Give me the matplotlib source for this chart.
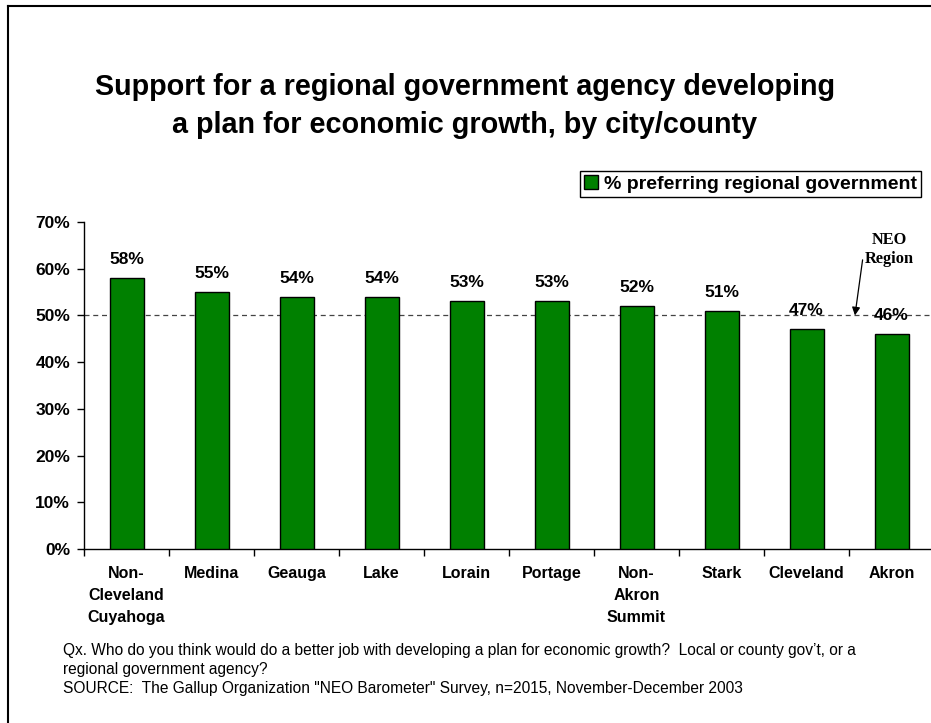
import matplotlib
matplotlib.use('Agg')
import matplotlib.pyplot as plt
from matplotlib.lines import Line2D
from matplotlib.patches import Patch
import numpy as np

# Survey results by city/county
areas = ["Non-\nCleveland\nCuyahoga", "Medina", "Geauga", "Lake", "Lorain",
         "Portage", "Non-\nAkron\nSummit", "Stark", "Cleveland", "Akron"]
pct_regional = [58, 55, 54, 54, 53, 53, 52, 51, 47, 46]
neo_region = 50
y_ticks = [0, 10, 20, 30, 40, 50, 60, 70]

title = ("Support for a regional government agency developing\n"
         "a plan for economic growth, by city/county")
legend_label = "% preferring regional government"
footnote = [
    "Qx. Who do you think would do a better job with developing a plan for economic growth?  "
    "Local or county gov\u2019t, or a",
    "regional government agency?",
    "SOURCE:  The Gallup Organization \"NEO Barometer\" Survey, n=2015, November-December 2003",
]

plt.rcParams['font.family'] = ['Liberation Sans', 'DejaVu Sans']

W, H = 931, 723
fig = plt.figure(figsize=(W / 100, H / 100), dpi=100)
fig.patch.set_facecolor('white')

# outer frame (top and left edges visible)
fig.add_artist(Line2D([8 / W, 8 / W], [0, 1 - 6 / H], color='black', lw=1.5))
fig.add_artist(Line2D([8 / W, 1], [1 - 6 / H, 1 - 6 / H], color='black', lw=1.5))

ax_left, ax_right = 84 / W, 934 / W
ax_bottom, ax_top = 1 - 549 / H, 1 - 222 / H
ax = fig.add_axes([ax_left, ax_bottom, ax_right - ax_left, ax_top - ax_bottom])

x = np.arange(len(areas))
bars = ax.bar(x, pct_regional, width=0.4, color='#008000', edgecolor='black',
              linewidth=1, zorder=3)

for xi, v in zip(x, pct_regional):
    ax.annotate(f"{v}%", (xi, v), xytext=(0, 8), textcoords='offset points',
                ha='center', va='bottom', fontsize=12.5, fontweight='bold', zorder=4)

ax.axhline(neo_region, color='#444444', lw=0.9, ls=(0, (4, 3)), zorder=2)

ax.set_xlim(-0.5, len(areas) - 0.5)
ax.set_ylim(0, 70)
ax.set_yticks(y_ticks)
ax.set_yticklabels([f"{t}%" for t in y_ticks], fontsize=12.5, fontweight='bold')
ax.tick_params(axis='y', direction='out', length=5, width=1, pad=5)

ax.set_xticks(x)
ax.set_xticklabels(areas, fontsize=11.5, fontweight='bold', linespacing=1.58, va='top')
ax.set_xticks(np.arange(len(areas) + 1) - 0.5, minor=True)
ax.tick_params(axis='x', which='major', length=0, pad=12)
ax.tick_params(axis='x', which='minor', direction='out', length=5, width=1)

for side in ('top', 'right'):
    ax.spines[side].set_visible(False)
for side in ('left', 'bottom'):
    ax.spines[side].set_linewidth(1)

# NEO region marker
ax.annotate("", xy=(8.57, neo_region), xytext=(8.66, 61.9),
            arrowprops=dict(arrowstyle='-|>', color='black', lw=0.9,
                            mutation_scale=12, shrinkA=0, shrinkB=0))
ax.text(8.98, 64.2, "NEO\nRegion", ha='center', va='center', fontsize=11.75,
        fontweight='bold', family=['Liberation Serif', 'DejaVu Serif'], linespacing=1.25)

fig.text(465 / W, 1 - 106 / H, title, ha='center', va='center', fontsize=20.7,
         fontweight='bold', linespacing=1.45)

leg = fig.legend(handles=[Patch(facecolor='#008000', edgecolor='black', linewidth=1,
                                label=legend_label)],
                 loc='upper right', bbox_to_anchor=(921 / W, 1 - 171 / H),
                 frameon=True, fancybox=False, edgecolor='black', framealpha=1,
                 handlelength=0.7, handleheight=0.7, handletextpad=0.3,
                 borderpad=0.22, borderaxespad=0,
                 prop=dict(size=14, weight='bold'))
leg.get_frame().set_linewidth(1)

for i, line in enumerate(footnote):
    fig.text(63 / W, 1 - (651 + 18.5 * i) / H, line, ha='left', va='center', fontsize=11.2)

fig.savefig('out.png', dpi=100)
